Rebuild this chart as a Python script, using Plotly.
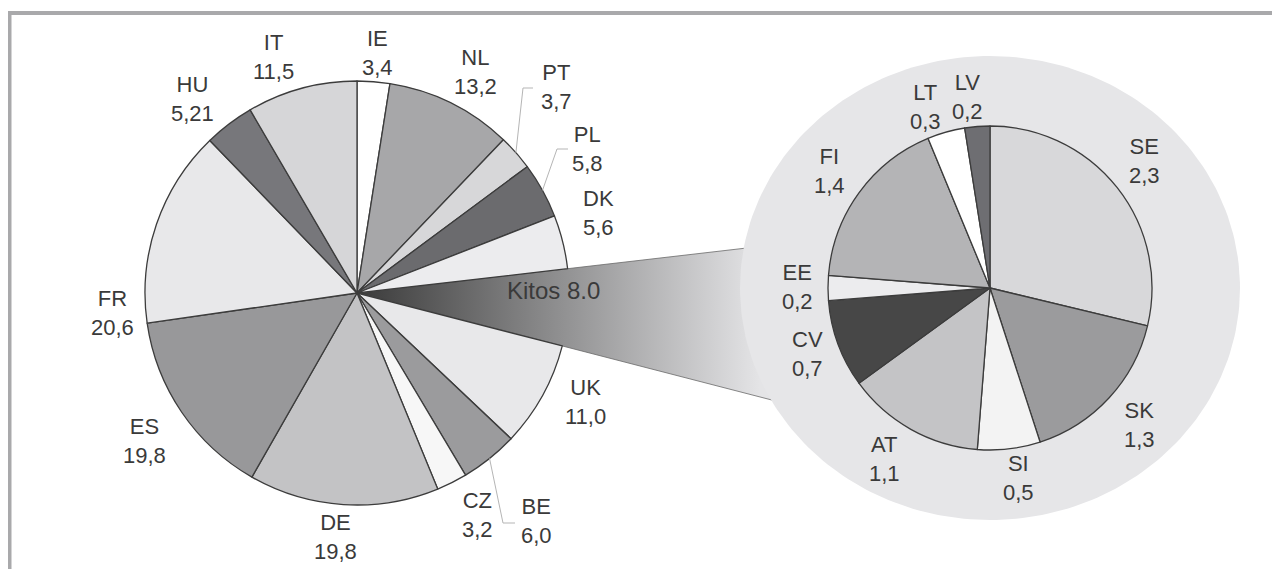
import numpy as np
import plotly.graph_objects as go

# ---------------- data ----------------
main_codes = ["IE", "NL", "PT", "PL", "DK", "Kitos", "UK", "BE", "CZ", "DE", "ES", "FR", "HU", "IT"]
main_values = [3.4, 13.2, 3.7, 5.8, 5.6, 8.0, 11.0, 6.0, 3.2, 19.8, 19.8, 20.6, 5.21, 11.5]

other_codes = ["SE", "SK", "SI", "AT", "CV", "EE", "FI", "LT", "LV"]
other_values = [2.3, 1.3, 0.5, 1.1, 0.7, 0.2, 1.4, 0.3, 0.2]

# ---------------- styles / layout ----------------
W, H = 1280, 569
OX, OY = 8, 8          # page body margin: axis coordinates == screen pixels
FONT = "Liberation Sans, Arial, sans-serif"
TXT = "#3a3a3a"
EDGE = "#3c3c3c"

main_colors = {"IE": "#ffffff", "NL": "#a7a7a9", "PT": "#d7d7d9", "PL": "#6b6b6e",
               "DK": "#ececee", "Kitos": "rgba(0,0,0,0)", "UK": "#e8e8ea", "BE": "#9b9b9d",
               "CZ": "#f7f7f7", "DE": "#c3c3c5", "ES": "#98989a", "FR": "#e8e8ea",
               "HU": "#77777b", "IT": "#d6d6d8"}
other_colors = {"SE": "#d8d8da", "SK": "#9b9b9d", "SI": "#f3f3f3", "AT": "#c4c4c6",
                "CV": "#474747", "EE": "#ececee", "FI": "#b4b4b6", "LT": "#ffffff",
                "LV": "#6e6e72"}

# pie geometry in screen pixels (y measured from top)
C1, R1 = (357, 293), 212
C2, R2 = (990, 288), 162
BG_C, BG_RX, BG_RY = (990, 288), 250, 232

# label centres (screen pixels)
label_pos = {"IE": (377, 53), "NL": (475, 72), "PT": (556, 87), "PL": (587, 149),
             "DK": (598, 213), "UK": (585, 402), "BE": (536, 521), "CZ": (477, 515),
             "DE": (335, 537), "ES": (144, 441), "FR": (112, 313), "HU": (192, 99),
             "IT": (273, 57),
             "SE": (1144, 161), "SK": (1139, 425), "SI": (1018, 478), "AT": (884, 459),
             "CV": (807, 354), "EE": (797, 287), "FI": (829, 171), "LT": (925, 107),
             "LV": (967, 97)}
kitos_pos = (553, 290)
leaders = {"PT": [(523, 88), (533, 88)], "PL": [(557, 149), (568, 149)],
           "BE": [(503, 523), (515, 523)]}


def domain(c, r):
    cx, cy = c[0] - OX, c[1] - OY
    return dict(x=[(cx - r) / W, (cx + r) / W],
                y=[(H - cy - r) / H, (H - cy + r) / H])


def fmt(v):
    return str(v).replace(".", ",")


def slice_angles(values):
    tot = float(sum(values))
    cum = np.concatenate([[0.0], np.cumsum(values)]) / tot * 360.0
    return cum  # degrees clockwise from 12 o'clock


def on_circle(c, r, deg):
    a = np.deg2rad(deg)
    return c[0] + r * np.sin(a), c[1] - r * np.cos(a)


fig = go.Figure()

# ---- connecting gradient wedge (Kitos) ----
cum = slice_angles(main_values)
k = main_codes.index("Kitos")
a_start, a_end = cum[k], cum[k + 1]
x_end = 790
wx, wy = [C1[0]], [C1[1]]
for a in (a_start, a_end):
    rad = np.deg2rad(a)
    t = (x_end - C1[0]) / np.sin(rad)
    wx.append(C1[0] + t * np.sin(rad))
    wy.append(C1[1] - t * np.cos(rad))
wx.append(C1[0]); wy.append(C1[1])
fig.add_trace(go.Scatter(
    x=wx, y=wy, mode="lines", fill="toself",
    line=dict(color="#6a6a6a", width=0.8),
    fillgradient=dict(type="horizontal", start=C1[0], stop=760,
                      colorscale=[[0, "#3a3a3a"], [1, "#e4e4e6"]]),
    hoverinfo="skip", showlegend=False))

# ---- grey background ellipse behind the second pie ----
tt = np.linspace(0, 2 * np.pi, 241)
fig.add_trace(go.Scatter(
    x=BG_C[0] + BG_RX * np.cos(tt), y=BG_C[1] + BG_RY * np.sin(tt),
    mode="lines", fill="toself", fillcolor="#e6e6e8",
    line=dict(color="#e6e6e8", width=0), hoverinfo="skip", showlegend=False))

# ---- pies ----
fig.add_trace(go.Pie(
    labels=main_codes, values=main_values, sort=False, direction="clockwise",
    rotation=0, textinfo="none", hoverinfo="label+value",
    marker=dict(colors=[main_colors[c] for c in main_codes],
                line=dict(color=EDGE, width=[0 if c == "Kitos" else 1.3 for c in main_codes])),
    domain=domain(C1, R1), showlegend=False))

fig.add_trace(go.Pie(
    labels=other_codes, values=other_values, sort=False, direction="clockwise",
    rotation=0, textinfo="none", hoverinfo="label+value",
    marker=dict(colors=[other_colors[c] for c in other_codes],
                line=dict(color=EDGE, width=1.3)),
    domain=domain(C2, R2), showlegend=False))

# ---- labels ----
annotations = []
for codes, vals in ((main_codes, main_values), (other_codes, other_values)):
    for c, v in zip(codes, vals):
        if c == "Kitos":
            continue
        x, y = label_pos[c]
        annotations.append(dict(x=x, y=y, xref="x", yref="y", text=f"{c}<br>{fmt(v)}",
                                showarrow=False, xanchor="center", yanchor="middle",
                                font=dict(family=FONT, size=22, color=TXT)))
annotations.append(dict(x=kitos_pos[0], y=kitos_pos[1], xref="x", yref="y",
                        text=f"Kitos {main_values[k]:.1f}", showarrow=False,
                        xanchor="center", yanchor="middle",
                        font=dict(family=FONT, size=24, color=TXT)))

# ---- leader lines & frame ----
shapes = []
for c, pts in leaders.items():
    i = main_codes.index(c)
    sx, sy = on_circle(C1, R1, (cum[i] + cum[i + 1]) / 2)
    path = f"M {sx},{sy} " + " ".join(f"L {px},{py}" for px, py in pts)
    shapes.append(dict(type="path", path=path, xref="x", yref="y",
                       line=dict(color="#b5b5b5", width=1)))
shapes.append(dict(type="path", path=f"M 9.5,{H + OY} L 9.5,13 L {W + OX},13",
                   xref="x", yref="y", line=dict(color="#a9a9ab", width=4)))

fig.update_layout(
    width=W, height=H, margin=dict(l=0, r=0, t=0, b=0),
    paper_bgcolor="white", plot_bgcolor="rgba(0,0,0,0)",
    xaxis=dict(range=[OX, W + OX], visible=False, fixedrange=True, domain=[0, 1]),
    yaxis=dict(range=[H + OY, OY], visible=False, fixedrange=True, domain=[0, 1]),
    annotations=annotations, shapes=shapes, showlegend=False)

fig.write_html("out.html")
